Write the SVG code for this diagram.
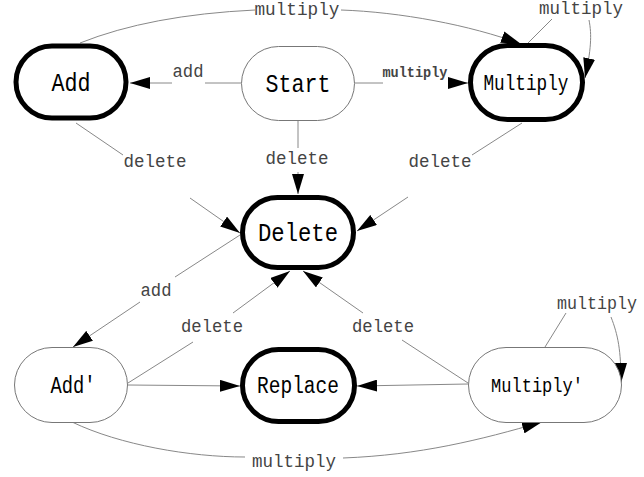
<svg xmlns="http://www.w3.org/2000/svg" width="644" height="477" viewBox="0 0 644 477">
<style>
.bg{fill:#fff}
.thick{fill:#fff;stroke:#000;stroke-width:5}
.thin{fill:#fff;stroke:#777;stroke-width:1}
.nl{font-family:"Liberation Mono",monospace;fill:#000;text-anchor:middle}
.el{font-family:"Liberation Mono",monospace;fill:#444;text-anchor:middle}
.e{fill:none;stroke:#888;stroke-width:1}
</style>
<defs>
<marker id="ah" markerUnits="userSpaceOnUse" markerWidth="20" markerHeight="12" refX="20" refY="6" orient="auto" viewBox="0 0 20 12">
<path d="M0,0 L20,6 L0,12 z" fill="#000"/>
</marker>
</defs>
<rect class="bg" width="644" height="477"/>
<g id="connectors">
<path class="e" d="M80,43 Q150,15 255,10"/>
<path class="e" d="M341,10 C400,12 470,25 521,44" marker-end="url(#ah)"/>
<path class="e" d="M528,43 L552,19"/>
<path class="e" d="M589,20 C592,35 591,50 585,78" marker-end="url(#ah)"/>
<path class="e" d="M355,83 L383,83"/>
<path class="e" d="M449,83 L468,83" marker-end="url(#ah)"/>
<path class="e" d="M241,83 L205,83"/>
<path class="e" d="M172,83 L130,83" marker-end="url(#ah)"/>
<path class="e" d="M298,121 L298,148"/>
<path class="e" d="M298,172 L298,194" marker-end="url(#ah)"/>
<path class="e" d="M76,123 L123,155"/>
<path class="e" d="M190,198 L240,233" marker-end="url(#ah)"/>
<path class="e" d="M522,123 L472,155"/>
<path class="e" d="M408,197 L357,231" marker-end="url(#ah)"/>
<path class="e" d="M240,235 L175,277"/>
<path class="e" d="M140,302 L73,347" marker-end="url(#ah)"/>
<path class="e" d="M128,383 L193,342"/>
<path class="e" d="M233,313 L290,271" marker-end="url(#ah)"/>
<path class="e" d="M128,385 L240,386" marker-end="url(#ah)"/>
<path class="e" d="M468,383 L402,340"/>
<path class="e" d="M363,313 L303,271" marker-end="url(#ah)"/>
<path class="e" d="M468,384 L357,386" marker-end="url(#ah)"/>
<path class="e" d="M545,347 L566,313"/>
<path class="e" d="M611,317 C618,335 621,350 621,383" marker-end="url(#ah)"/>
<path class="e" d="M72,422 C120,445 190,457 245,457"/>
<path class="e" d="M343,458 C420,455 480,440 542,422" marker-end="url(#ah)"/>
<text class="el" x="297" y="15" font-size="18" textLength="85" lengthAdjust="spacingAndGlyphs">multiply</text>
<text class="el" x="581" y="14" font-size="18" textLength="84" lengthAdjust="spacingAndGlyphs">multiply</text>
<text class="el" x="415" y="77" font-size="14" font-weight="bold" textLength="65" lengthAdjust="spacingAndGlyphs">multiply</text>
<text class="el" x="188" y="77" font-size="19" textLength="31" lengthAdjust="spacingAndGlyphs">add</text>
<text class="el" x="297" y="164" font-size="19" textLength="63" lengthAdjust="spacingAndGlyphs">delete</text>
<text class="el" x="155" y="167" font-size="19" textLength="63" lengthAdjust="spacingAndGlyphs">delete</text>
<text class="el" x="440" y="167" font-size="19" textLength="63" lengthAdjust="spacingAndGlyphs">delete</text>
<text class="el" x="156" y="296" font-size="19" textLength="31" lengthAdjust="spacingAndGlyphs">add</text>
<text class="el" x="212" y="332" font-size="19" textLength="62" lengthAdjust="spacingAndGlyphs">delete</text>
<text class="el" x="383" y="332" font-size="19" textLength="62" lengthAdjust="spacingAndGlyphs">delete</text>
<text class="el" x="597" y="309" font-size="18" textLength="80" lengthAdjust="spacingAndGlyphs">multiply</text>
<text class="el" x="294" y="467" font-size="19" textLength="84" lengthAdjust="spacingAndGlyphs">multiply</text>
</g>
<g id="add">
<rect class="thick" x="16" y="46" width="110" height="72" rx="36"/>
<text class="nl" x="71" y="91" font-size="25" textLength="39" lengthAdjust="spacingAndGlyphs">Add</text>
</g>
<g id="start">
<rect class="thin" x="241.5" y="46.5" width="113" height="74" rx="37"/>
<text class="nl" x="298" y="92" font-size="25" textLength="65" lengthAdjust="spacingAndGlyphs">Start</text>
</g>
<g id="multiply">
<rect class="thick" x="470.5" y="45.5" width="112" height="74" rx="37"/>
<text class="nl" x="526" y="90" font-size="22" textLength="85" lengthAdjust="spacingAndGlyphs">Multiply</text>
</g>
<g id="delete">
<rect class="thick" x="242.5" y="197.5" width="111" height="70" rx="35"/>
<text class="nl" x="298" y="241" font-size="25" textLength="80" lengthAdjust="spacingAndGlyphs">Delete</text>
</g>
<g id="replace">
<rect class="thick" x="242.5" y="349.5" width="112" height="72" rx="36"/>
<text class="nl" x="298" y="393" font-size="23" fill="#444" textLength="82" lengthAdjust="spacingAndGlyphs">Replace</text>
</g>
<g id="add-prime">
<rect class="thin" x="14.5" y="347.5" width="113" height="75" rx="37.5"/>
<text class="nl" x="73" y="393" font-size="23" textLength="45" lengthAdjust="spacingAndGlyphs">Add'</text>
</g>
<g id="multiply-prime">
<rect class="thin" x="468.5" y="347.5" width="153" height="75" rx="37.5"/>
<text class="nl" x="537" y="392" font-size="21" textLength="92" lengthAdjust="spacingAndGlyphs">Multiply'</text>
</g>
</svg>
